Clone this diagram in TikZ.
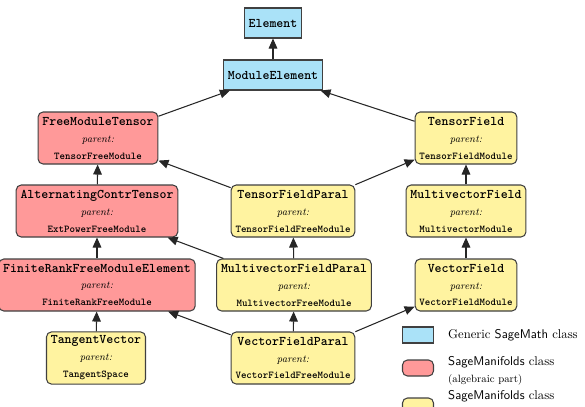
\documentclass[tikz,border=0pt]{standalone}
\usepackage{xcolor}
\usepackage{tikz}
\usetikzlibrary{arrows.meta}
\definecolor{GenBlue}{RGB}{170,226,248}
\definecolor{AlgRed}{RGB}{255,153,153}
\definecolor{DiffYellow}{RGB}{255,243,160}

% class name / parent: / parent name
\newcommand{\clsbox}[2]{{\fontsize{11.3}{14.5}\selectfont\ttfamily\bfseries #1}\\{\itshape parent:}\\{\ttfamily\bfseries #2}}

\begin{document}
\begin{tikzpicture}[
                % Kinds of classes
                generic/.style={rectangle, draw=black!75, fill=GenBlue, line width=0.9pt, minimum height=0.9cm, inner xsep=0.13cm, font=\fontsize{11.3}{14.5}\selectfont\ttfamily\bfseries},
                algnode/.style={rectangle, rounded corners=1.5mm, draw=black!75, fill=AlgRed, line width=0.9pt, minimum height=1.56cm, inner xsep=0.13cm, align=center, font=\fontsize{8.9}{14.5}\selectfont},
                diffnode/.style={algnode, fill=DiffYellow},
                % Inheritance
                edge/.style={draw=black!85, line width=0.9pt, -{Triangle[length=3mm,width=2.6mm]}},
                % Legend
                swatch/.style={draw=black!75, line width=0.9pt, minimum width=0.93cm, minimum height=0.48cm, inner sep=0pt},
                legtext/.style={anchor=west, align=left, inner sep=0pt, font=\fontsize{10.8}{14.5}\selectfont}
            ]
                \useasboundingbox (0,0) rectangle (17.55,-12.18);

                % --- CLASSES ---
                % Generic
                \node[generic] (elt) at (8.19, -0.69) {Element};
                \node[generic] (modelt) at (8.19, -2.25) {ModuleElement};

                % Row 1
                \node[algnode] (fmt) at (2.94, -4.14) {\clsbox{FreeModuleTensor}{TensorFreeModule}};
                \node[diffnode] (tf) at (13.98, -4.14) {\clsbox{TensorField}{TensorFieldModule}};

                % Row 2
                \node[algnode] (act) at (2.91, -6.33) {\clsbox{AlternatingContrTensor}{ExtPowerFreeModule}};
                \node[diffnode] (tfp) at (8.79, -6.33) {\clsbox{TensorFieldParal}{TensorFieldFreeModule}};
                \node[diffnode] (mvf) at (13.98, -6.33) {\clsbox{MultivectorField}{MultivectorModule}};

                % Row 3
                \node[algnode] (frfme) at (2.91, -8.55) {\clsbox{FiniteRankFreeModuleElement}{FiniteRankFreeModule}};
                \node[diffnode] (mvfp) at (8.82, -8.55) {\clsbox{MultivectorFieldParal}{MultivectorFreeModule}};
                \node[diffnode] (vf) at (13.98, -8.55) {\clsbox{VectorField}{VectorFieldModule}};

                % Row 4
                \node[diffnode] (tv) at (2.88, -10.74) {\clsbox{TangentVector}{TangentSpace}};
                \node[diffnode] (vfp) at (8.79, -10.74) {\clsbox{VectorFieldParal}{VectorFieldFreeModule}};

                % --- INHERITANCE ---
                \draw[edge] (modelt) -- (elt);
                \draw[edge] (fmt) -- (modelt); \draw[edge] (tf) -- (modelt);
                \draw[edge] (act) -- (fmt); \draw[edge] (tfp) -- (fmt); \draw[edge] (tfp) -- (tf);
                \draw[edge] (mvf) -- (tf);
                \draw[edge] (frfme) -- (act); \draw[edge] (mvfp) -- (act); \draw[edge] (mvfp) -- (tfp);
                \draw[edge] (vf) -- (mvf);
                \draw[edge] (tv) -- (frfme); \draw[edge] (vfp) -- (frfme);
                \draw[edge] (vfp) -- (mvfp); \draw[edge] (vfp) -- (vf);

                % --- LEGEND ---
                \node[swatch, fill=GenBlue] (keygen) at (12.54, -10.05) {};
                \node[swatch, fill=AlgRed, rounded corners=1.5mm] (keyalg) at (12.54, -11.04) {};
                \node[swatch, fill=DiffYellow, rounded corners=1.5mm] (keydiff) at (12.54, -12.18) {};
                \node[legtext] (txtgen) at (13.44, -10.05) {Generic \textsf{SageMath} class};
                \node[legtext] (txtalg) at (13.44, -11.12) {\textsf{SageManifolds} class\\{\small (algebraic part)}};
                \node[legtext] (txtdiff) at (13.44, -11.88) {\textsf{SageManifolds} class};

            \end{tikzpicture}
\end{document}
